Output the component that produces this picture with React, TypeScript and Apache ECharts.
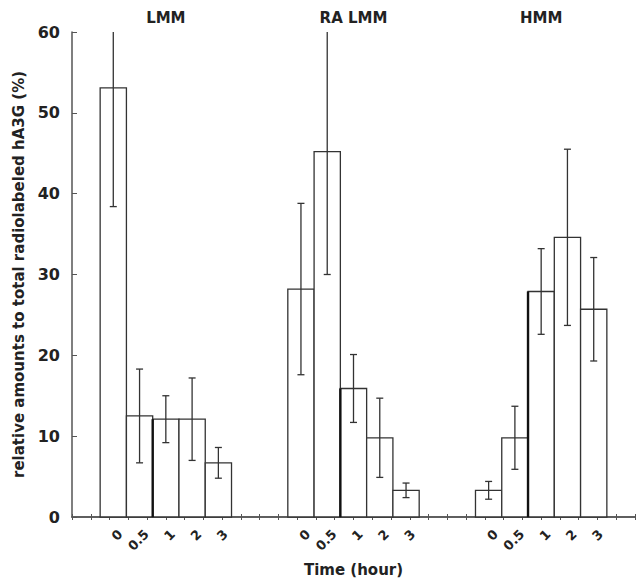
import React, { useEffect, useRef } from "react";
import * as echarts from "echarts";

const groups = ["LMM", "RA LMM", "HMM"];
const times = ["0", "0.5", "1", "2", "3"];
const lmmValues = [53.1, 12.5, 12.1, 12.1, 6.7];
const lmmErrors = [14.7, 5.8, 2.9, 5.1, 1.9];
const raLmmValues = [28.2, 45.2, 15.9, 9.8, 3.3];
const raLmmErrors = [10.6, 15.2, 4.2, 4.9, 0.9];
const hmmValues = [3.3, 9.8, 27.9, 34.6, 25.7];
const hmmErrors = [1.1, 3.9, 5.3, 10.9, 6.4];
const yTicks = [0, 10, 20, 30, 40, 50, 60];

const groupValues = [lmmValues, raLmmValues, hmmValues];
const groupErrors = [lmmErrors, raLmmErrors, hmmErrors];

// layout of groups along a value x axis
const groupCenters = [5, 15, 25];
const barStep = 1.4;

const FONT = '"DejaVu Sans", "Liberation Sans", Arial, sans-serif';

export default function App() {
  const ref = useRef<HTMLDivElement>(null);
  useEffect(() => {
    if (!ref.current) return;
    const chart = echarts.init(ref.current, null, { renderer: "svg" });
    const data: number[][] = [];
    groupValues.forEach((vals, g) => {
      vals.forEach((v, i) => {
        data.push([groupCenters[g] + (i - 2) * barStep, v, groupErrors[g][i], g, i]);
      });
    });
    const yMax = yTicks[yTicks.length - 1];
    const axisColor = "#555";
    const option: any = {
      animation: false,
      backgroundColor: "#fff",
      grid: { left: 72, top: 32, width: 570, height: 488 },
      xAxis: [
        {
          type: "value",
          position: "bottom",
          min: 0,
          max: 30,
          interval: 1,
          axisLine: { show: true, onZero: false, lineStyle: { color: axisColor, width: 1.5 } },
          axisTick: { show: true, inside: true, length: 3, lineStyle: { color: axisColor, width: 1 } },
          axisLabel: { show: false },
          splitLine: { show: false },
          name: "Time (hour)",
          nameLocation: "middle",
          nameGap: 45,
          nameTextStyle: { fontFamily: FONT, fontWeight: "bold", fontSize: 15, color: "#222" },
        },
        {
          type: "value",
          position: "top",
          min: 0,
          max: 30,
          interval: 1,
          axisLine: { show: true, lineStyle: { color: axisColor, width: 1.5 } },
          axisTick: { show: true, inside: true, length: 3, lineStyle: { color: axisColor, width: 1 } },
          axisLabel: {
            show: true,
            margin: 7,
            fontFamily: FONT,
            fontWeight: "bold",
            fontSize: 15,
            color: "#222",
            formatter: (v: number) => {
              const idx = groupCenters.indexOf(v);
              return idx >= 0 ? groups[idx] : "";
            },
          },
          splitLine: { show: false },
        },
      ],
      yAxis: {
        type: "value",
        min: 0,
        max: yMax,
        interval: 10,
        axisLine: { show: true, lineStyle: { color: axisColor, width: 1.5 } },
        axisTick: { show: true, inside: true, length: 5, lineStyle: { color: axisColor, width: 1 } },
        axisLabel: { margin: 12, fontFamily: FONT, fontWeight: "bold", fontSize: 16, color: "#222" },
        splitLine: { show: false },
        name: "relative amounts to total radiolabeled hA3G (%)",
        nameLocation: "middle",
        nameGap: 43,
        nameTextStyle: { fontFamily: FONT, fontWeight: "bold", fontSize: 15, color: "#222" },
      },
      series: [
        {
          type: "custom",
          xAxisIndex: 0,
          data,
          renderItem: (params: any, api: any) => {
            const x = api.value(0);
            const v = api.value(1);
            const i = api.value(4);
            const tl = api.coord([x - barStep / 2, v]);
            const br = api.coord([x + barStep / 2, 0]);
            const c = api.coord([x, 0]);
            const children: any[] = [
              {
                type: "rect",
                shape: { x: tl[0], y: tl[1], width: br[0] - tl[0], height: br[1] - tl[1] },
                style: { fill: "#fff", stroke: "#333", lineWidth: 1.3 },
              },
              {
                type: "text",
                x: c[0] + 7,
                y: c[1] + 15,
                rotation: Math.PI / 4,
                style: {
                  text: times[i],
                  align: "right",
                  verticalAlign: "middle",
                  font: `bold 13px ${FONT}`,
                  fill: "#222",
                },
              },
            ];
            if (i === 2) {
              children.push({
                type: "line",
                shape: { x1: tl[0], y1: tl[1], x2: tl[0], y2: br[1] },
                style: { stroke: "#111", lineWidth: 2.4 },
              });
            }
            return { type: "group", children };
          },
          z: 2,
        },
        {
          type: "custom",
          xAxisIndex: 0,
          data,
          renderItem: (params: any, api: any) => {
            const x = api.value(0);
            const v = api.value(1);
            const e = api.value(2);
            const top = params.coordSys.y;
            const lo = api.coord([x, v - e]);
            const hi = api.coord([x, v + e]);
            const hiY = Math.max(hi[1], top);
            const cx = lo[0];
            const cap = 3.5;
            const st = { stroke: "#333", lineWidth: 1.3 };
            const children: any[] = [
              { type: "line", shape: { x1: cx, y1: lo[1], x2: cx, y2: hiY }, style: st },
              { type: "line", shape: { x1: cx - cap, y1: lo[1], x2: cx + cap, y2: lo[1] }, style: st },
            ];
            if (hi[1] >= top) {
              children.push({ type: "line", shape: { x1: cx - cap, y1: hiY, x2: cx + cap, y2: hiY }, style: st });
            }
            return { type: "group", children };
          },
          z: 3,
        },
      ],
    };
    chart.setOption(option);
    return () => chart.dispose();
  }, []);
  return (
    <div
      ref={ref}
      style={{ position: "absolute", left: 0, top: 0, width: 638, height: 582 }}
    />
  );
}
